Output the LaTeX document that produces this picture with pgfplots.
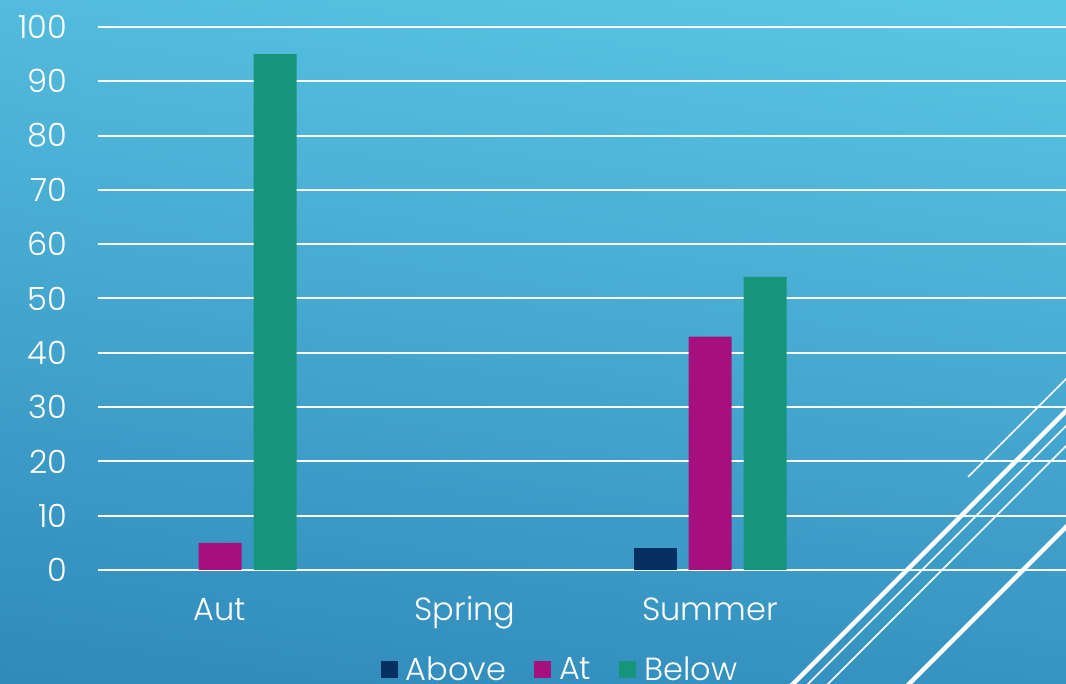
\documentclass[border=0pt]{standalone}
\usepackage{pgfplots}
\pgfplotsset{compat=1.18}
\usepackage{fontspec}
\setmainfont{Poppins}[UprightFont=* Light]
\definecolor{bgtop}{RGB}{90,198,229}
\definecolor{bgbot}{RGB}{48,138,186}
\definecolor{cAbove}{RGB}{6,48,98}
\definecolor{cAt}{RGB}{165,15,126}
\definecolor{cBelow}{RGB}{22,149,122}
\begin{document}
\begin{tikzpicture}
\useasboundingbox (0,0) rectangle (533pt,342pt);
\clip (0,0) rectangle (533pt,342pt);
\shade[top color=bgtop, bottom color=bgbot, shading angle=-8] (-20pt,-20pt) rectangle (553pt,362pt);
\begin{axis}[
  at={(48.75pt,57pt)}, anchor=south west,
  scale only axis, width=484.25pt, height=271.5pt,
  xmin=-0.5, xmax=3.453, ymin=0, ymax=100,
  axis line style={draw=none},
  clip=false,
  ytick={0,10,...,100},
  xtick={0,1,2}, xticklabels={Aut,Spring,Summer},
  ymajorgrids, grid style={white, line width=1pt},
  major tick length=0pt,
  tick style={draw=none},
  tick label style={font=\fontsize{16}{18}\selectfont, text=white},
  /pgf/number format/assume math mode=true,
  yticklabel style={anchor=east, inner sep=0pt, xshift=-15pt},
  xticklabel style={anchor=base, inner sep=0pt, yshift=-25.5pt},
  ybar, bar width=21.5pt,
  y filter/.expression={y==0 ? nan : y},
  unbounded coords=discard,
  legend columns=-1,
  legend style={at={(0.4765,-0.184)}, anchor=center, draw=none, fill=none,
    font=\fontsize{16}{18}\selectfont, text=white,
    nodes={inner sep=0pt},
    /tikz/every odd column/.append style={column sep=4pt},
    /tikz/every even column/.append style={column sep=14pt}},
  legend image code/.code={\fill[#1] (0pt,-4.25pt) rectangle (8.5pt,4.25pt);},
]
\addplot[fill=cAbove, draw=none, bar shift=-27.5pt] coordinates {(0,0) (1,0) (2,4)};
\addplot[fill=cAt, draw=none, bar shift=0pt] coordinates {(0,5) (1,0) (2,43)};
\addplot[fill=cBelow, draw=none, bar shift=27.5pt] coordinates {(0,95) (1,0) (2,54)};
\legend{Above,At,Below}
\end{axis}
\begin{scope}[x=0.5pt, y=-0.5pt, shift={(0,342pt)}, white]
\draw[line width=0.75pt] (968,477) -- (1100,345);
\draw[line width=2.2pt] (780,697) -- (1100,377);
\draw[line width=0.8pt] (795,697) -- (1100,392);
\draw[line width=0.8pt] (815,697) -- (1100,412);
\draw[line width=2.2pt] (896,697) -- (1100,493);
\end{scope}
\end{tikzpicture}
\end{document}
